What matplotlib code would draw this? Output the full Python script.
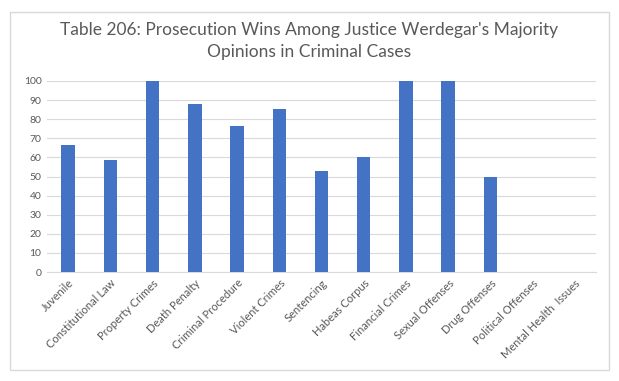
import numpy as np
import matplotlib.pyplot as plt
from matplotlib.patches import Rectangle

# Data
categories = ['Juvenile', 'Constitutional Law', 'Property Crimes', 'Death Penalty',
              'Criminal Procedure', 'Violent Crimes', 'Sentencing', 'Habeas Corpus',
              'Financial Crimes', 'Sexual Offenses', 'Drug Offenses',
              'Political Offenses', 'Mental Health  Issues']
wins = [66.3, 58.5, 100, 88.1, 76.4, 85.5, 52.7, 60, 100, 100, 50, 0, 0]
yticks = list(range(0, 101, 10))

plt.rcParams['font.family'] = ['Lato', 'DejaVu Sans']

fig = plt.figure(figsize=(6.19, 3.81), dpi=100)
fig.patches.append(Rectangle((10/619, 1-370/381), 599/619, 358/381,
                             transform=fig.transFigure, fill=False,
                             edgecolor='#d9d9d9', linewidth=1))

ax = fig.add_axes([47/619, 1-272/381, 549/619, 191/381])
x = np.arange(len(categories))
ax.bar(x, wins, width=0.32, color='#4472c4', zorder=3)

ax.set_xlim(-0.5, len(categories) - 0.5)
ax.set_ylim(0, 100)
ax.set_yticks(yticks)
ax.set_yticklabels([str(t) for t in yticks], fontsize=7.5, color='#595959')
ax.set_xticks(x)
ax.set_xticklabels(categories, rotation=45, ha='right', rotation_mode='anchor',
                   fontsize=8, color='#595959')
ax.tick_params(length=0, pad=4)
ax.grid(axis='y', color='#d9d9d9', linewidth=0.8, zorder=0)
for s in ['top', 'right', 'left']:
    ax.spines[s].set_visible(False)
ax.spines['bottom'].set_color('#d9d9d9')

fig.text(0.5, 1-41/381, "Table 206: Prosecution Wins Among Justice Werdegar's Majority\nOpinions in Criminal Cases",
         ha='center', va='center', fontsize=12.5, color='#595959', linespacing=1.45)

fig.savefig('out.png', dpi=100)
